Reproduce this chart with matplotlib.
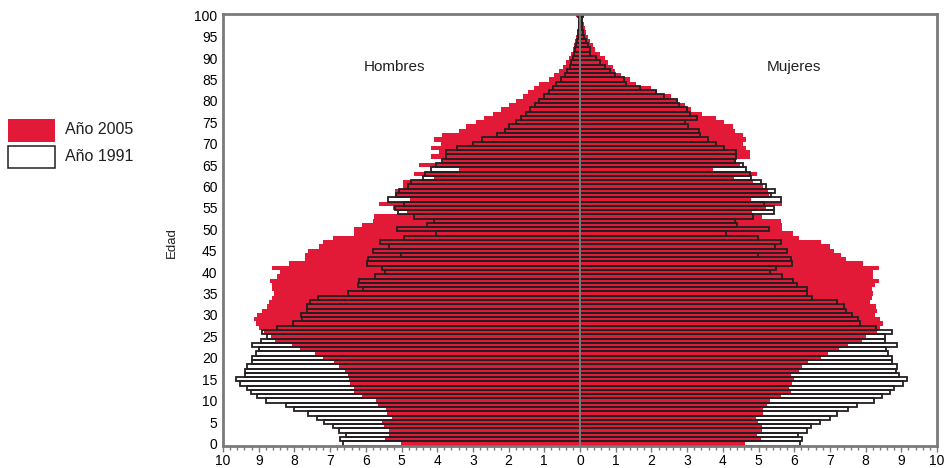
import matplotlib
matplotlib.use("Agg")
import matplotlib.pyplot as plt
import numpy as np
from matplotlib.patches import Rectangle
from matplotlib.ticker import MultipleLocator, FuncFormatter

plt.rcParams['font.family'] = ['Liberation Sans', 'DejaVu Sans']

ages = np.arange(0, 101)

# Hombres 1991 (miles), edad 0..100
men_1991 = [6.65, 6.72, 6.56, 6.74, 6.91, 7.17, 7.37, 7.61, 8.01, 8.24,
            8.80, 9.04, 9.22, 9.32, 9.53, 9.63, 9.39, 9.39, 9.32, 9.18,
            9.18, 9.08, 8.99, 9.18, 8.94, 8.76, 8.90, 8.50, 8.04, 7.78,
            7.82, 7.64, 7.64, 7.57, 7.34, 6.51, 6.07, 6.23, 6.20, 5.75,
            5.46, 5.55, 5.97, 5.95, 5.02, 5.81, 5.36, 5.61, 4.94, 4.03,
            5.13, 4.29, 4.10, 4.64, 5.09, 5.18, 4.94, 5.37, 5.16, 5.06,
            4.83, 4.74, 4.41, 4.34, 4.17, 4.03, 3.87, 3.75, 3.75, 3.45,
            3.01, 2.75, 2.33, 2.09, 1.98, 1.79, 1.65, 1.51, 1.39, 1.25,
            1.14, 1.00, 0.87, 0.76, 0.67, 0.53, 0.43, 0.37, 0.29, 0.25,
            0.20, 0.16, 0.13, 0.10, 0.08, 0.06, 0.05, 0.04, 0.03, 0.02,
            0.05]

# Hombres 2005
men_2005 = [5.02, 5.47, 5.36, 5.36, 5.50, 5.56, 5.27, 5.42, 5.44, 5.67,
            5.72, 6.12, 6.33, 6.33, 6.44, 6.47, 6.49, 6.58, 6.75, 6.89,
            7.20, 7.43, 7.84, 8.06, 8.54, 8.66, 8.85, 8.99, 9.08, 9.13,
            9.04, 8.90, 8.76, 8.71, 8.62, 8.57, 8.62, 8.62, 8.69, 8.50,
            8.40, 8.64, 8.15, 7.70, 7.70, 7.61, 7.31, 7.21, 6.93, 6.33,
            6.33, 6.11, 5.81, 5.76, 4.85, 5.25, 5.62, 4.75, 5.18, 5.18,
            4.97, 4.95, 4.08, 4.66, 3.40, 4.50, 3.85, 4.16, 3.94, 4.16,
            3.89, 4.10, 3.86, 3.38, 3.19, 2.91, 2.68, 2.45, 2.21, 1.98,
            1.79, 1.60, 1.47, 1.28, 1.14, 0.86, 0.72, 0.58, 0.48, 0.39,
            0.31, 0.25, 0.20, 0.17, 0.14, 0.12, 0.09, 0.07, 0.05, 0.04,
            0.12]

# Mujeres 1991
women_1991 = [6.16, 6.22, 6.11, 6.37, 6.47, 6.72, 7.00, 7.21, 7.51, 7.77,
              8.23, 8.45, 8.68, 8.79, 9.04, 9.15, 8.94, 8.85, 8.89, 8.75,
              8.75, 8.63, 8.57, 8.89, 8.54, 8.54, 8.75, 8.29, 7.84, 7.79,
              7.63, 7.44, 7.40, 7.21, 6.50, 6.37, 6.37, 6.08, 5.97, 5.66,
              5.32, 5.50, 5.94, 5.92, 4.99, 5.81, 5.46, 5.62, 4.99, 4.10,
              5.30, 4.40, 4.33, 4.85, 5.44, 5.44, 5.16, 5.62, 5.34, 5.46,
              5.20, 5.06, 4.80, 4.75, 4.64, 4.57, 4.35, 4.38, 4.38, 4.03,
              3.80, 3.59, 3.37, 3.32, 3.02, 2.93, 3.29, 3.09, 3.00, 2.77,
              2.72, 2.35, 2.14, 1.69, 1.30, 1.23, 0.99, 0.83, 0.69, 0.55,
              0.45, 0.27, 0.27, 0.22, 0.17, 0.10, 0.08, 0.07, 0.06, 0.05,
              0.08]

# Mujeres 2005
women_2005 = [4.63, 5.08, 4.97, 5.11, 5.11, 4.99, 4.92, 5.13, 5.13, 5.24,
              5.33, 5.64, 5.90, 5.85, 5.94, 5.99, 5.92, 6.14, 6.23, 6.39,
              6.74, 6.95, 7.26, 7.51, 7.89, 8.01, 8.31, 8.40, 8.50, 8.40,
              8.26, 8.31, 8.29, 8.12, 8.17, 8.21, 8.17, 8.26, 8.37, 8.20,
              8.21, 8.37, 7.93, 7.44, 7.30, 7.11, 7.00, 6.74, 6.14, 5.97,
              5.67, 5.67, 5.64, 5.11, 4.83, 5.22, 5.66, 4.80, 5.29, 5.27,
              5.13, 4.85, 4.31, 4.97, 3.73, 4.47, 4.38, 4.77, 4.77, 4.64,
              4.57, 4.66, 4.57, 4.33, 4.29, 4.03, 3.80, 3.43, 3.12, 2.93,
              2.74, 2.56, 2.16, 2.00, 1.58, 1.39, 1.15, 0.97, 0.92, 0.78,
              0.69, 0.55, 0.41, 0.36, 0.28, 0.22, 0.17, 0.14, 0.11, 0.08,
              0.12]

red = '#E31A37'
frame_col = '#7a7a7a'

fig = plt.figure(figsize=(9.46, 4.68), dpi=100)
ax = fig.add_axes([223 / 946, 22 / 468, 714 / 946, 432 / 468])

m91 = -np.array(men_1991)
m05 = -np.array(men_2005)
w91 = np.array(women_1991)
w05 = np.array(women_2005)

# 1991 white fill below, 2005 red, then 1991 outlines on top
ax.barh(ages, m91, height=1.0, color='white', edgecolor='none', zorder=1)
ax.barh(ages, w91, height=1.0, color='white', edgecolor='none', zorder=1)
ax.barh(ages, m05, height=1.0, color=red, edgecolor='none', zorder=2)
ax.barh(ages, w05, height=1.0, color=red, edgecolor='none', zorder=2)
ax.barh(ages, m91, height=1.0, fill=False, edgecolor='#231f20', linewidth=1.3, zorder=3)
ax.barh(ages, w91, height=1.0, fill=False, edgecolor='#231f20', linewidth=1.3, zorder=3)

ax.axvline(0, color=frame_col, linewidth=1.4, zorder=4)

ax.set_xlim(-10, 10)
ax.set_ylim(-0.6, 100.3)

ax.xaxis.set_major_locator(MultipleLocator(1))
ax.xaxis.set_minor_locator(MultipleLocator(0.2))
ax.xaxis.set_major_formatter(FuncFormatter(lambda v, p: f"{abs(v):.0f}"))
ax.yaxis.set_major_locator(MultipleLocator(5))

ax.tick_params(axis='x', which='major', direction='out', length=4, width=1,
               color=frame_col, labelsize=10, pad=2)
ax.tick_params(axis='x', which='minor', direction='out', length=3, width=1,
               color=frame_col)
ax.tick_params(axis='y', length=0, labelsize=10, pad=4)

for s in ax.spines.values():
    s.set_color(frame_col)
    s.set_linewidth(2)
    s.set_zorder(5)

ax.text(-5.2, 88, "Hombres", ha='center', va='center', fontsize=11, color='#231f20')
ax.text(6.0, 88, "Mujeres", ha='center', va='center', fontsize=11, color='#231f20')

fig.text(172 / 946, 1 - 243 / 468, "Edad", rotation=90, ha='center', va='center',
         fontsize=9.5, color='#231f20')

# legend
fig.patches.append(Rectangle((8 / 946, 1 - 142 / 468), 47 / 946, 23 / 468,
                             transform=fig.transFigure, facecolor=red, edgecolor='none'))
fig.patches.append(Rectangle((8 / 946, 1 - 168 / 468), 47 / 946, 22 / 468,
                             transform=fig.transFigure, facecolor='white',
                             edgecolor='#231f20', linewidth=1.1))
fig.text(65 / 946, 1 - 129 / 468, "Año 2005", ha='left', va='center', fontsize=11.5,
         color='#231f20')
fig.text(65 / 946, 1 - 157 / 468, "Año 1991", ha='left', va='center', fontsize=11.5,
         color='#231f20')

fig.savefig("out.png", dpi=100)
